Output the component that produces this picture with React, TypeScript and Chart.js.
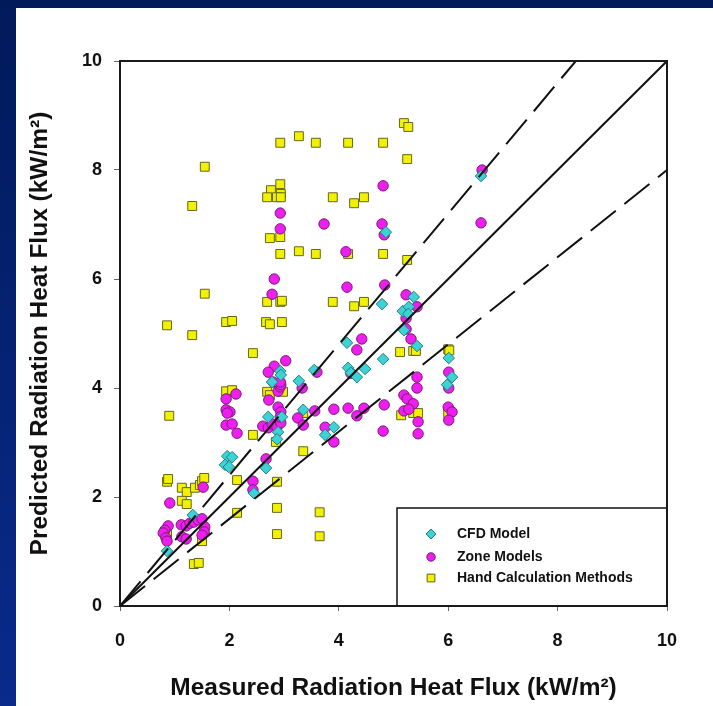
import React, { useEffect, useRef } from 'react';
import { Chart, registerables } from 'chart.js';

Chart.register(...registerables);

// ---- Data ----
const cfdX = [0.86, 1.33, 1.96, 2.05, 1.92, 1.99, 2.45, 2.67, 2.93, 2.94, 2.78, 2.71, 2.96, 2.89, 2.87, 3.27, 3.35, 3.55, 3.75, 3.91, 4.15, 4.17, 4.22, 4.33, 4.48, 4.81, 4.79, 4.86, 5.17, 5.28, 5.27, 5.37, 5.19, 5.43, 6.01, 6.07, 5.98, 6.6];
const cfdY = [1.01, 1.67, 2.75, 2.73, 2.59, 2.55, 2.07, 2.53, 4.31, 4.24, 4.11, 3.47, 3.47, 3.19, 3.06, 4.13, 3.6, 4.33, 3.14, 3.28, 4.83, 4.37, 4.28, 4.2, 4.35, 4.53, 5.54, 6.86, 5.41, 5.49, 5.36, 5.67, 5.06, 4.77, 4.55, 4.2, 4.06, 7.89];

const zoneX = [0.88, 0.82, 0.79, 1.12, 1.21, 1.28, 1.35, 1.43, 1.5, 1.55, 1.54, 1.5, 1.13, 1.21, 0.84, 0.86, 1.52, 0.91,
  2.12, 1.94, 1.94, 2.01, 1.96, 1.94, 2.05, 2.14, 2.43, 2.43, 2.67,
  2.61, 2.71, 2.78, 2.87, 2.94, 2.89, 2.94, 2.93, 2.72, 2.89, 2.93, 2.94, 2.8, 2.93, 2.82, 2.71, 3.03,
  3.25, 3.35, 3.33, 3.6, 3.56,
  2.82, 2.78, 2.93, 2.93, 3.73, 4.13, 4.15, 4.79, 4.81, 4.83, 4.84, 6.62, 6.6,
  4.42, 4.33, 4.22, 5.23, 5.43, 5.23, 5.23, 5.32,
  3.91, 4.17, 4.46, 4.33, 4.83, 5.19, 5.25, 5.36, 5.19, 5.28, 5.45, 5.45, 3.75, 3.91, 4.81, 5.43, 5.43, 6.01, 6.01, 6.0, 6.07, 6.01];
const zoneY = [1.47, 1.39, 1.34, 1.49, 1.47, 1.52, 1.54, 1.58, 1.6, 1.45, 1.36, 1.3, 1.27, 1.23, 1.25, 1.19, 2.18, 1.89,
  3.89, 3.8, 3.6, 3.56, 3.54, 3.32, 3.34, 3.17, 2.29, 2.13, 2.7,
  3.3, 3.27, 3.34, 3.28, 3.36, 3.65, 3.56, 3.47, 3.78, 3.94, 4.02, 4.06, 4.11, 4.11, 4.4, 4.29, 4.5,
  3.45, 3.32, 4.0, 4.29, 3.58,
  6.0, 5.72, 7.21, 6.92, 7.01, 6.5, 5.85, 7.01, 7.71, 6.81, 5.89, 8.0, 7.03,
  4.9, 4.7, 4.27, 5.71, 5.49, 5.28, 5.08, 4.9,
  3.61, 3.63, 3.63, 3.49, 3.69, 3.87, 3.8, 3.71, 3.58, 3.61, 3.38, 3.16, 3.28, 3.01, 3.21, 4.2, 4.0, 4.29, 4.0, 3.65, 3.56, 3.41];

const handX = [0.86, 0.9, 0.86, 0.88, 1.13, 1.22, 1.37, 1.46, 1.5, 1.54, 1.13, 1.22, 0.86, 1.5, 1.35, 1.44, 1.55, 1.32, 1.55, 1.32,
  1.94, 2.05, 1.94, 2.05, 2.14, 2.14, 2.43, 2.43,
  2.69, 2.74, 2.98, 2.67, 2.74, 2.96, 2.69, 2.93, 2.96,
  2.87, 2.87, 2.87, 2.85,
  2.93, 3.27, 3.58, 4.17, 4.81, 5.19, 5.27, 5.25,
  2.93, 2.76, 2.94, 2.69, 2.87, 2.94, 3.89, 4.28, 4.46,
  2.74, 2.93, 2.93, 3.27, 3.58, 4.17, 4.81, 5.25,
  3.89, 4.28, 4.46,
  5.12, 5.36, 5.41, 6.0, 6.02,
  5.14, 5.36, 5.45, 6.0,
  3.35, 3.35, 3.65, 3.65];
const handY = [5.15, 3.49, 2.28, 2.33, 2.17, 2.09, 2.17, 2.22, 2.29, 2.35, 1.93, 1.87, 1.34, 1.19, 0.77, 0.79, 8.06, 7.34, 5.73, 4.97,
  3.94, 3.96, 5.21, 5.23, 2.31, 1.71, 3.14, 4.64,
  3.93, 3.87, 3.93, 5.21, 5.17, 5.21, 5.58, 5.58, 5.6,
  2.28, 1.8, 1.32, 3.01,
  8.5, 8.62, 8.5, 8.5, 8.5, 8.86, 8.79, 8.2,
  7.74, 7.63, 7.56, 7.5, 7.5, 7.5, 7.5, 7.39, 7.5,
  6.75, 6.77, 6.46, 6.51, 6.46, 6.46, 6.46, 6.35,
  5.58, 5.5, 5.58,
  4.66, 4.68, 4.68, 4.71, 4.69,
  3.5, 3.54, 3.54, 3.54,
  3.54, 2.84, 1.72, 1.28];

// reference lines: 1:1 and +/-20 %
const equalX = [0, 10];
const equalY = [0, 10];
const upperX = [0, 8.333];
const upperY = [0, 10];
const lowerX = [0, 10];
const lowerY = [0, 8];

const axisMin = 0;
const axisMax = 10;
const axisStep = 2;

const seriesNames = ['CFD Model', 'Zone Models', 'Hand Calculation Methods'];
const xTitle = 'Measured Radiation Heat Flux (kW/m\u00B2)';
const yTitle = 'Predicted Radiation Heat Flux (kW/m\u00B2)';

const FONT = "'Liberation Sans', Arial, Helvetica, sans-serif";

const pts = (xs: number[], ys: number[]) => xs.map((x, i) => ({ x, y: ys[i] }));

function drawMarker(ctx: CanvasRenderingContext2D, style: string, x: number, y: number, r: number) {
  ctx.beginPath();
  if (style === 'circle') {
    ctx.arc(x, y, r, 0, Math.PI * 2);
  } else if (style === 'rectRot') {
    ctx.moveTo(x, y - r);
    ctx.lineTo(x + r, y);
    ctx.lineTo(x, y + r);
    ctx.lineTo(x - r, y);
    ctx.closePath();
  } else {
    const s = r * Math.SQRT1_2;
    ctx.rect(x - s, y - s, 2 * s, 2 * s);
  }
  ctx.fill();
  ctx.stroke();
}

const framePlugin = {
  id: 'frameAndLegend',
  afterDraw(chart: any) {
    const { ctx, chartArea: a } = chart;
    ctx.save();
    // legend box inside plot
    const lx = a.right - 270;
    const ly = a.bottom - 98;
    ctx.fillStyle = '#ffffff';
    ctx.fillRect(lx, ly, a.right - lx, a.bottom - ly);
    ctx.strokeStyle = '#111111';
    ctx.lineWidth = 1.5;
    ctx.strokeRect(lx, ly, a.right - lx, a.bottom - ly);
    // plot frame
    ctx.lineWidth = 2;
    ctx.strokeStyle = '#1a1a1a';
    ctx.strokeRect(a.left, a.top, a.right - a.left, a.bottom - a.top);
    // legend items
    const rows = [26, 49, 70];
    const ds = chart.data.datasets;
    for (let i = 0; i < 3; i++) {
      const d = ds[i];
      const cy = ly + rows[i];
      ctx.fillStyle = d.backgroundColor;
      ctx.strokeStyle = d.borderColor;
      ctx.lineWidth = 1;
      const r = d.pointStyle === 'circle' ? 4.2 : d.pointStyle === 'rectRot' ? 5 : 5.5;
      drawMarker(ctx, d.pointStyle, lx + 34, cy, r);
      ctx.fillStyle = '#111111';
      ctx.font = `bold 14px ${FONT}`;
      ctx.textBaseline = 'middle';
      ctx.textAlign = 'left';
      ctx.fillText(seriesNames[i], lx + 60, cy);
    }
    ctx.restore();
  },
};

export default function App() {
  const canvasRef = useRef<HTMLCanvasElement | null>(null);

  useEffect(() => {
    document.body.style.margin = '0';
    const canvas = canvasRef.current;
    if (!canvas) return;
    const tickFont = { family: FONT, size: 18, weight: 'bold' as const };
    const titleFont = { family: FONT, size: 24.5, weight: 'bold' as const };
    const lineDs = (xs: number[], ys: number[], dash: number[]) => ({
      type: 'line' as const,
      data: pts(xs, ys),
      borderColor: '#111111',
      borderWidth: 2,
      borderDash: dash,
      pointRadius: 0,
      showLine: true,
      fill: false,
      order: 0,
    });
    const chart = new Chart(canvas, {
      type: 'scatter',
      data: {
        datasets: [
          {
            label: seriesNames[0],
            data: pts(cfdX, cfdY),
            pointStyle: 'rectRot',
            pointRadius: 5.8,
            backgroundColor: '#3cd2d6',
            borderColor: '#23807f',
            borderWidth: 1,
            order: 1,
          } as any,
          {
            label: seriesNames[1],
            data: pts(zoneX, zoneY),
            pointStyle: 'circle',
            pointRadius: 5.2,
            backgroundColor: '#ee1eee',
            borderColor: '#7a1a7a',
            borderWidth: 1,
            order: 2,
          } as any,
          {
            label: seriesNames[2],
            data: pts(handX, handY),
            pointStyle: 'rect',
            pointRadius: 6.3,
            backgroundColor: '#f2f200',
            borderColor: '#66661a',
            borderWidth: 1,
            order: 3,
          } as any,
          lineDs(equalX, equalY, []),
          lineDs(upperX, upperY, [32, 11]),
          lineDs(lowerX, lowerY, [32, 11]),
        ] as any,
      },
      options: {
        animation: false,
        responsive: false,
        maintainAspectRatio: false,
        layout: { padding: { left: 0, top: 61, right: 46, bottom: 0 } },
        plugins: {
          legend: { display: false },
          tooltip: { enabled: false },
        },
        scales: {
          x: {
            type: 'linear',
            min: axisMin,
            max: axisMax,
            ticks: { stepSize: axisStep, font: tickFont, color: '#111111', padding: 19 },
            grid: { display: true, drawOnChartArea: false, drawTicks: true, tickLength: 5, color: '#666666' },
            border: { display: false },
            title: { display: true, text: xTitle, font: titleFont, color: '#111111', padding: { top: 0, bottom: 3 } },
            afterFit: (s: any) => { s.height = 100; },
          },
          y: {
            type: 'linear',
            min: axisMin,
            max: axisMax,
            ticks: { stepSize: axisStep, font: tickFont, color: '#111111', padding: 12 },
            grid: { display: true, drawOnChartArea: false, drawTicks: true, tickLength: 6, color: '#666666' },
            border: { display: false },
            title: { display: true, text: yTitle, font: titleFont, color: '#111111', padding: { top: 26, bottom: 0 } },
            afterFit: (s: any) => { s.width = 120; },
          },
        },
      } as any,
      plugins: [framePlugin],
    });
    return () => chart.destroy();
  }, []);

  return (
    <div style={{ position: 'absolute', left: 0, top: 0, width: 713, height: 706, background: 'linear-gradient(180deg, #001a5a 0%, #0a2a8c 100%)', overflow: 'hidden' }}>
      <div style={{ position: 'absolute', left: 16, top: 8, right: 0, bottom: 0, background: '#ffffff' }} />
      <canvas ref={canvasRef} width={713} height={706} style={{ position: 'absolute', left: 0, top: 0, width: 713, height: 706 }} />
    </div>
  );
}
